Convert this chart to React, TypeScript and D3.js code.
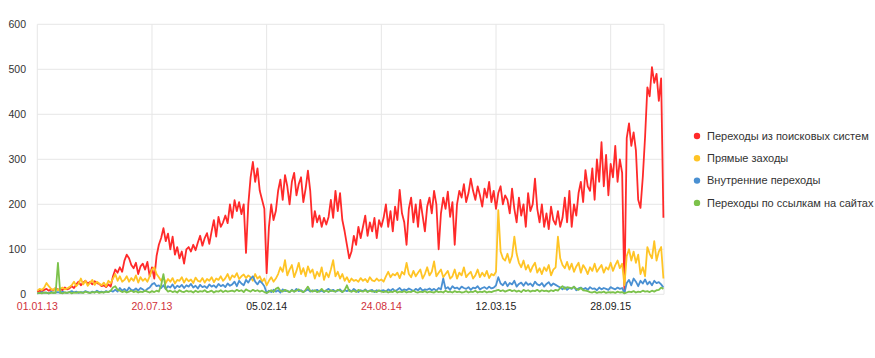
import React from 'react';
import * as d3 from 'd3';

const START_UTC = Date.UTC(2013, 0, 1);
const STEP_DAYS = 4;
const DOMAIN_DAYS = 1093;

const seriesNames = [
  'Переходы из поисковых систем',
  'Прямые заходы',
  'Внутренние переходы',
  'Переходы по ссылкам на сайтах',
];
const seriesColors = ['#ff2a2a', '#ffc425', '#4a90d2', '#7cc24b'];

const searchVisits = [
  5,8,6,10,12,8,11,9,14,10,12,9,15,11,13,
  18,14,
  22,28,20,26,30,24,27,22,29,25,23,
  18,20,16,22,17,
  40,55,48,60,50,
  75,88,80,
  65,58,70,45,62,68,55,72,40,
  60,
  35,85,110,
  125,147,118,135,
  100,128,88,105,
  80,95,68,100,
  105,95,110,98,
  115,130,108,125,136,112,
  140,165,128,172,150,160,
  175,158,200,170,209,
  185,205,178,200,
  92,
  200,
  260,294,250,280,230,
  210,190,
  47,
  150,200,165,185,
  230,255,210,265,240,200,250,270,220,245,260,205,235,275,230,
  150,185,
  160,175,150,170,155,172,
  210,170,230,185,225,165,
  140,110,80,95,
  130,110,150,125,
  150,175,130,160,140,170,125,165,150,
  170,200,150,185,140,195,165,232,180,160,
  110,
  190,215,160,200,150,210,175,140,195,215,
  180,230,200,
  100,
  180,
  215,190,228,172,205,
  110,
  200,230,215,245,205,225,257,230,210,240,220,195,235,215,250,205,230,190,225,240,200,220,
  210,180,235,190,160,215,175,200,150,225,185,200,
  257,
  190,160,200,150,180,145,195,165,155,185,150,
  170,215,160,230,150,200,175,225,250,205,276,240,
  230,280,210,300,250,338,240,310,220,290,260,330,250,300,270,
  5,
  347,380,330,360,320,210,
  192,
  260,350,460,
  440,505,470,490,430,480,
  170,
];

const directVisits = [
  8,12,10,15,
  25,18,12,
  10,14,9,12,15,11,13,16,
  20,28,18,24,35,22,30,19,26,32,21,28,24,
  20,26,18,30,25,
  35,45,30,40,28,
  32,40,28,36,30,42,26,38,30,35,28,40,
  55,60,45,38,
  30,38,25,34,28,36,24,32,30,38,26,35,29,33,25,37,30,28,36,26,34,30,38,27,35,32,40,30,
  36,45,32,42,38,47,34,40,44,36,42,
  38,30,45,35,40,28,35,
  20,
  30,38,28,35,
  45,60,50,76,42,55,65,38,52,70,45,58,40,62,48,
  55,35,50,40,60,32,48,38,55,76,40,50,35,45,
  30,38,27,35,30,32,28,36,30,34,27,38,31,29,35,30,33,28,
  40,50,38,45,42,48,36,50,44,70,
  45,38,52,40,48,55,35,45,60,42,50,73,40,48,55,38,45,52,35,
  40,55,35,48,42,60,38,45,50,35,42,55,38,48,40,52,36,45,42,50,
  187,
  95,80,75,90,70,85,
  128,
  90,70,60,75,55,65,50,62,70,48,58,45,60,52,65,42,55,60,
  128,
  80,65,58,72,55,68,50,62,70,48,65,57,45,60,52,68,50,58,65,48,60,55,70,52,65,75,58,68,
  20,
  85,100,75,95,70,88,
  45,60,40,105,
  90,80,118,75,95,105,
  35,
];

const internalVisits = [
  2,3,5,3,4,2,6,3,4,5,3,6,4,3,5,7,4,6,3,5,4,7,5,3,6,4,8,5,6,4,7,5,8,6,
  10,6,14,8,12,7,15,10,9,13,8,14,11,7,12,15,
  22,25,18,20,
  14,20,12,18,15,22,13,19,16,21,14,20,17,23,15,19,13,21,16,18,14,22,17,20,15,23,18,21,16,24,19,
  22,28,18,30,24,20,32,26,35,40,28,22,30,25,18,
  3,
  8,5,10,6,9,4,11,7,8,5,10,6,12,7,9,5,8,11,6,9,7,10,6,8,5,9,12,7,10,6,8,11,5,9,7,10,6,12,8,5,9,7,11,6,8,10,5,9,7,8,
  9,6,11,8,12,7,10,14,8,11,9,13,10,7,12,9,14,8,11,10,13,9,12,8,14,11,
  35,
  12,16,10,18,13,15,11,17,14,12,16,10,15,13,18,11,14,16,12,17,13,15,20,
  38,
  24,20,28,18,25,22,30,17,23,26,19,27,21,24,18,28,22,20,25,17,23,27,19,24,21,18,
  15,11,16,10,14,12,17,9,13,15,11,14,10,16,12,13,9,15,11,14,12,10,16,13,11,15,12,14,
  3,
  25,32,20,35,28,18,30,24,33,22,28,20,30,25,27,22,15,
];

const referralVisits = [
  2,3,2,4,3,2,3,4,3,
  70,
  3,2,4,3,5,2,4,3,5,4,3,6,4,3,5,4,6,3,5,4,6,5,8,
  15,18,10,8,
  5,7,4,6,8,5,7,4,6,5,8,6,4,7,5,8,6,
  20,45,12,
  6,8,5,7,4,9,6,5,8,6,7,4,8,5,7,6,9,5,6,8,4,7,6,9,5,8,6,7,
  8,6,10,7,9,5,11,8,6,10,7,9,6,8,5,
  3,
  6,9,5,12,15,8,6,10,7,5,9,6,8,11,7,5,10,17,8,6,9,5,7,12,6,8,5,9,7,6,10,8,5,9,20,7,6,8,5,10,7,6,9,5,8,6,7,5,9,6,
  5,7,4,6,5,8,4,6,5,7,4,6,5,8,5,4,6,5,7,4,6,5,4,7,5,6,4,8,5,6,4,7,5,6,4,5,7,4,6,5,8,4,6,5,7,4,6,5,7,8,
  10,7,9,6,8,10,7,9,6,8,5,10,7,9,6,8,7,10,6,9,7,8,6,9,7,10,8,
  14,18,12,16,15,13,17,12,10,14,9,8,7,
  5,4,6,3,5,4,6,3,5,4,5,3,6,4,5,
  2,
  4,6,5,7,4,6,5,8,6,7,5,8,6,9,10,15,12,
];

const allSeries = [searchVisits, directVisits, internalVisits, referralVisits];

const tickDayOffsets = [0, 200, 400, 600, 800, 1000];
const tickLabels = ['01.01.13', '20.07.13', '05.02.14', '24.08.14', '12.03.15', '28.09.15'];
const tickHoliday = [true, true, false, true, false, false];
const yTicks = [0, 100, 200, 300, 400, 500, 600];

const DAY = 86400000;
const dayToDate = (d: number) => new Date(START_UTC + d * DAY);

export default function App() {
  const W = 875, H = 358;
  const left = 37.3, right = 664, top = 24.3, bottom = 294.3;
  const x = d3.scaleUtc().domain([dayToDate(0), dayToDate(DOMAIN_DAYS)]).range([left, right]);
  const y = d3.scaleLinear().domain([0, 600]).range([bottom, top]);
  const line = d3
    .line<number>()
    .x((_, i) => x(dayToDate(i * STEP_DAYS)))
    .y((v) => y(v));
  const font = '"Liberation Sans", Arial, sans-serif';
  const gridColor = '#e6e6e6';
  const drawOrder = [0, 1, 2, 3];

  return (
    <svg width={W} height={H} style={{ position: 'absolute', left: 0, top: 0, background: '#fff' }}>
      <rect x={0} y={0} width={W} height={H} fill="#fff" />
      {yTicks.map((t) => (
        <line key={'gy' + t} x1={left} x2={right} y1={y(t)} y2={y(t)} stroke={gridColor} strokeWidth={1} />
      ))}
      {tickDayOffsets.map((d) => (
        <line key={'gx' + d} x1={x(dayToDate(d))} x2={x(dayToDate(d))} y1={top} y2={bottom} stroke={gridColor} strokeWidth={1} />
      ))}
      <line x1={right} x2={right} y1={top} y2={bottom} stroke={gridColor} strokeWidth={1} />
      {yTicks.map((t) => (
        <text key={'ty' + t} x={26} y={y(t)} dy="0.35em" textAnchor="end" fontFamily={font} fontSize={10.5} fill="#333">
          {t}
        </text>
      ))}
      {tickDayOffsets.map((d, i) => (
        <text
          key={'tx' + d}
          x={x(dayToDate(d))}
          y={310}
          textAnchor="middle"
          fontFamily={font}
          fontSize={10.5}
          fill={tickHoliday[i] ? '#d0303a' : '#222'}
        >
          {tickLabels[i]}
        </text>
      ))}
      {drawOrder.map((si) => (
        <path
          key={'s' + si}
          d={line(allSeries[si]) || ''}
          fill="none"
          stroke={seriesColors[si]}
          strokeWidth={1.8}
          strokeLinejoin="round"
        />
      ))}
      {seriesNames.map((n, i) => (
        <g key={'lg' + i} transform={`translate(697,${136 + i * 22.3})`}>
          <circle cx={0} cy={0} r={3.2} fill={seriesColors[i]} />
          <text x={10} y={0} dy="0.35em" fontFamily={font} fontSize={11} fill="#333">
            {n}
          </text>
        </g>
      ))}
    </svg>
  );
}
